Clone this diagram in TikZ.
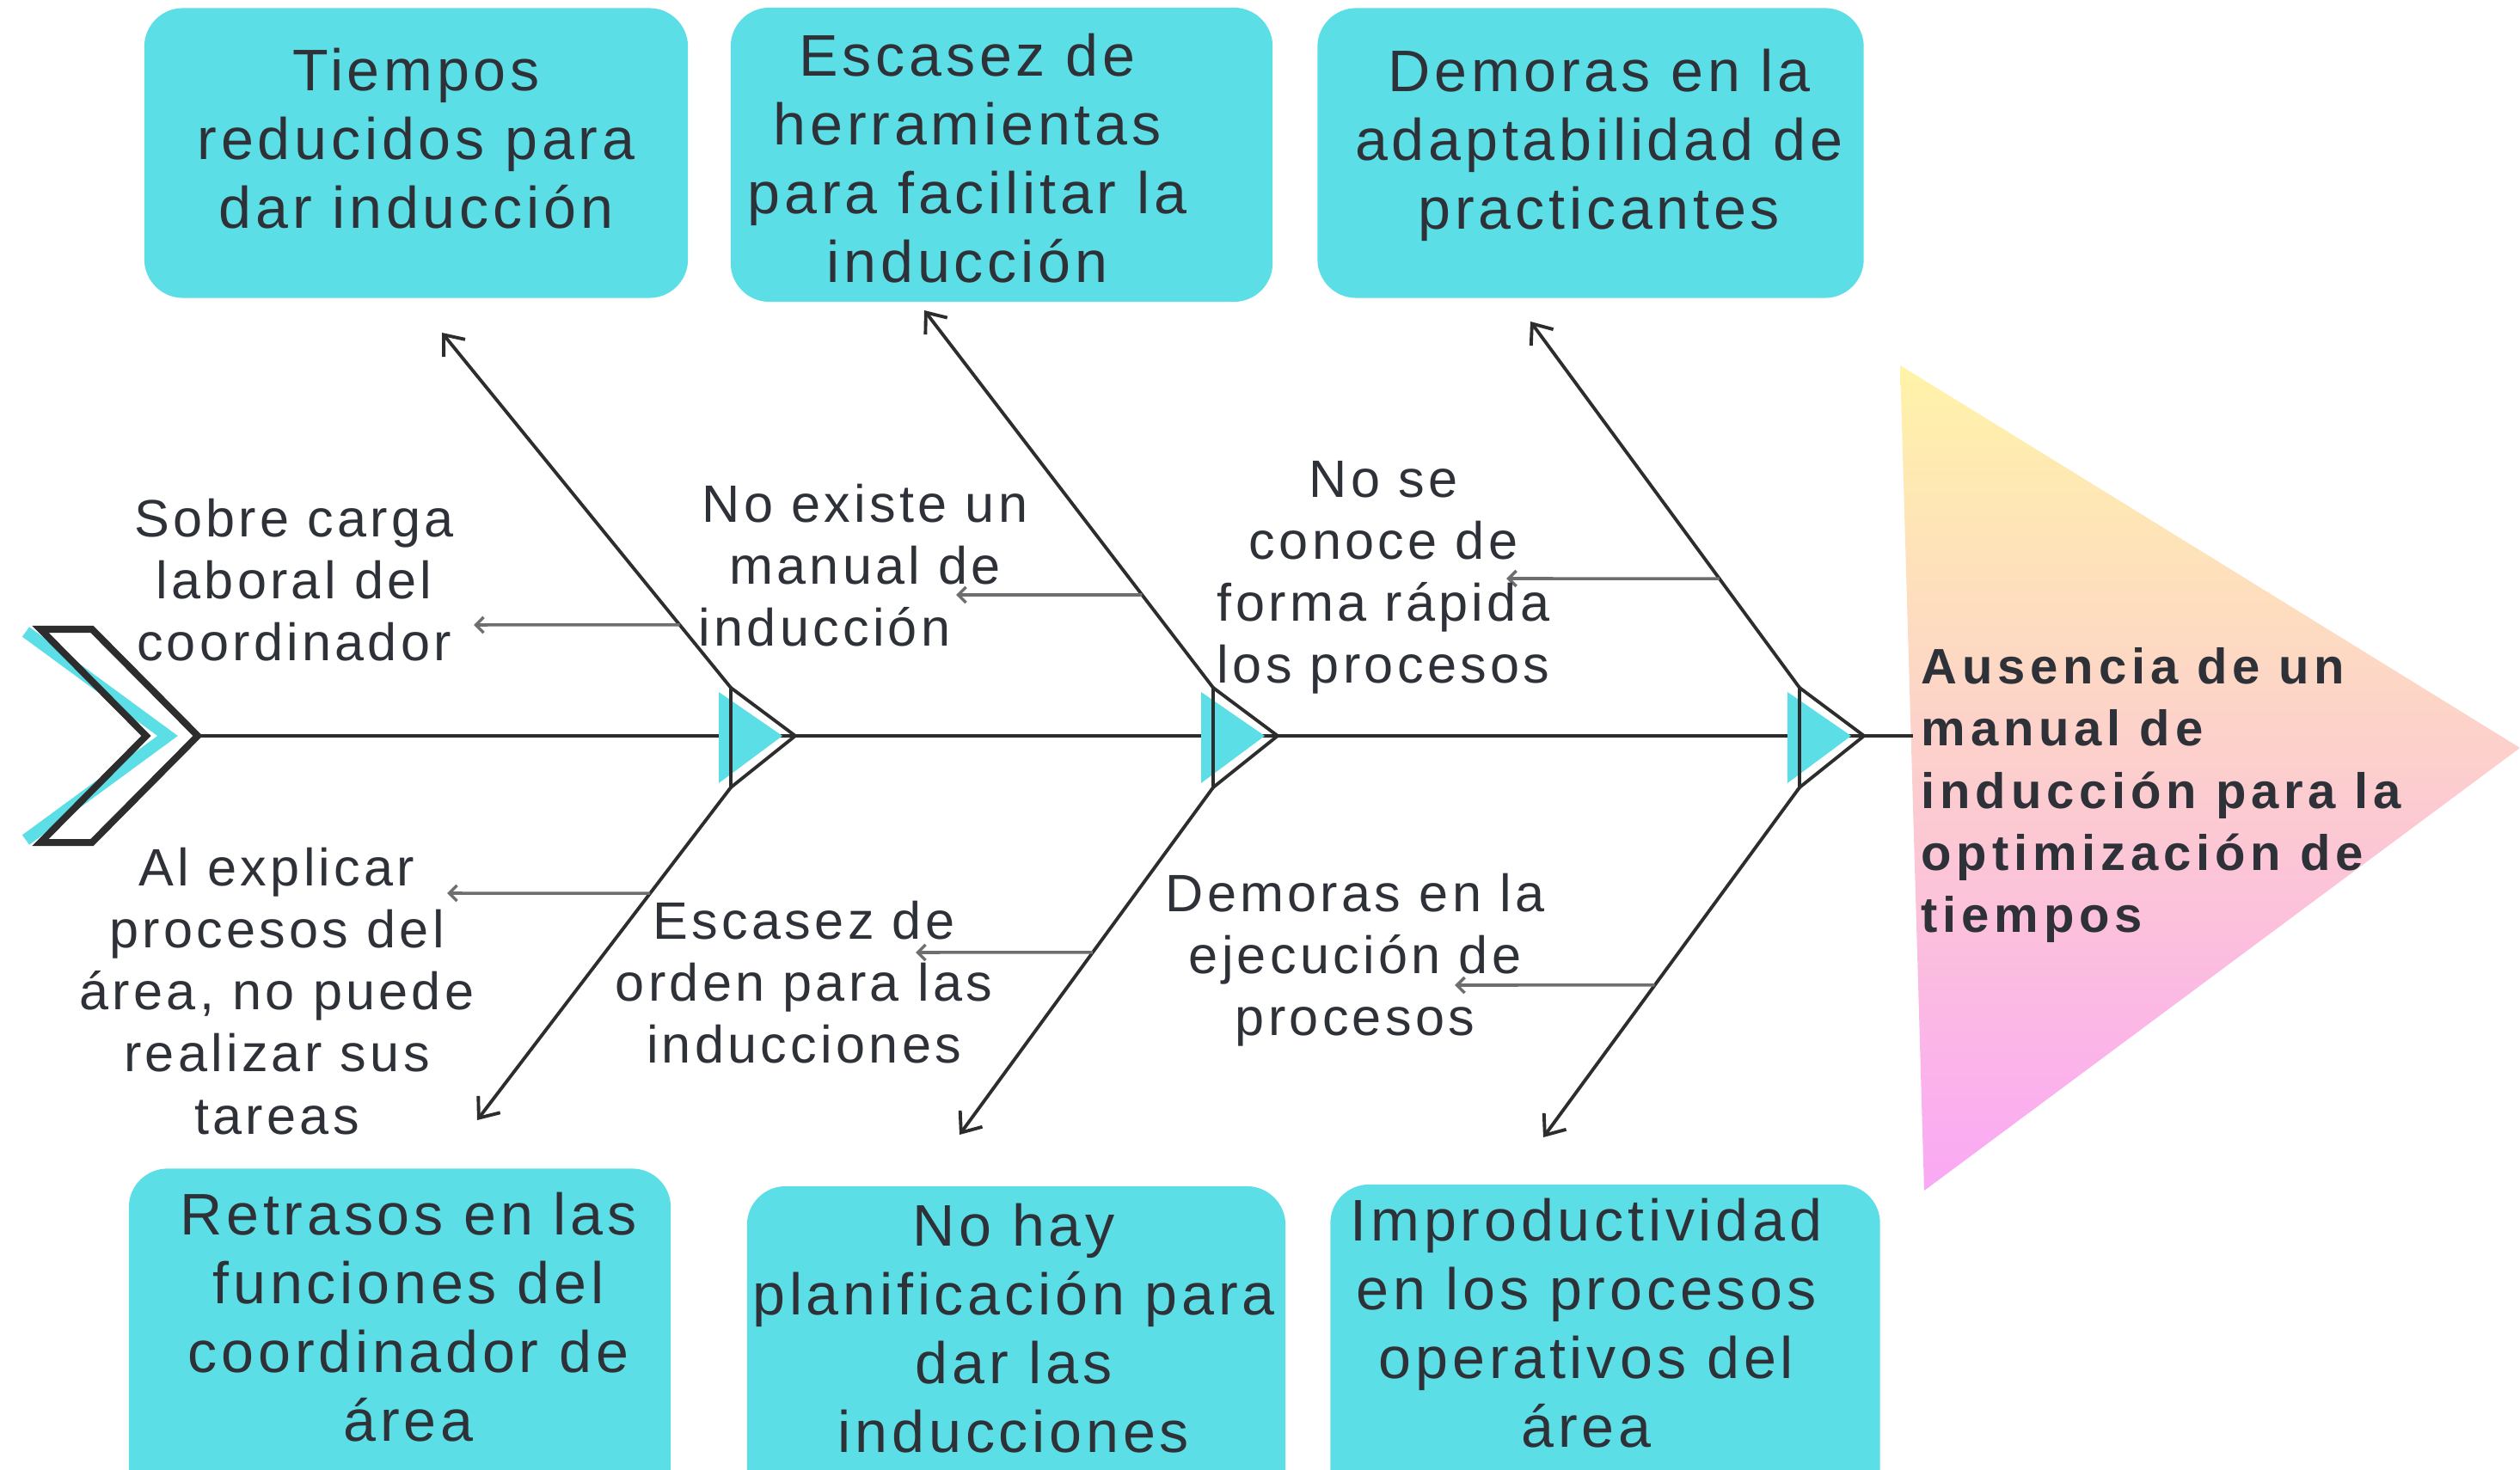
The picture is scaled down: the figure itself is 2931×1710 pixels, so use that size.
\documentclass[tikz,border=0pt]{standalone}
\usepackage{fontspec}
\setmainfont{Liberation Sans}
\newfontfamily\boxfont{Liberation Sans}[LetterSpace=7]
\newfontfamily\headfont{Liberation Sans}[LetterSpace=10]
\usepackage{xcolor}
\definecolor{BoxCyan}{RGB}{92,222,230}
\definecolor{Ink}{RGB}{46,50,56}
\definecolor{Line}{RGB}{45,45,45}
\definecolor{Grey}{RGB}{110,110,110}
\definecolor{Yellow}{RGB}{255,243,168}
\definecolor{Peach}{RGB}{252,204,196}
\definecolor{Pink}{RGB}{250,168,245}
\usepackage{tikz}
\usetikzlibrary{arrows.meta}

\tikzset{
	causebox/.style={fill=BoxCyan, draw=none, rounded corners=0.45cm, inner sep=0pt},
	boxtext/.style={align=center, text=Ink, inner sep=0pt, font=\boxfont\fontsize{19.4}{22.8}\selectfont},
	subtext/.style={align=center, text=Ink, inner sep=0pt, font=\boxfont\fontsize{17.4}{20.5}\selectfont},
	bone/.style={draw=Line, line width=1.1pt, -{Straight Barb[length=2mm, width=3.2mm]}},
	subarrow/.style={draw=Grey, line width=1pt, -{Straight Barb[length=0.9mm, width=1.8mm]}}
}

\begin{document}
\begin{tikzpicture}[x=0.01cm, y=-0.01cm]
		
		\useasboundingbox (0,0) rectangle (2931,1710);
		\clip (0,0) rectangle (2931,1710);
		
		% Effect
		\shade[top color=Yellow, middle color=Peach, bottom color=Pink] (2210,425) -- (2931,870) -- (2238,1385) -- cycle;
		\node[anchor=west, align=left, text=Ink, inner sep=0pt, font=\headfont\bfseries\fontsize{16.5}{20.5}\selectfont] (effect) at (2234,925) {Ausencia de un\\manual de\\inducción para la\\optimización de\\tiempos};
		
		% Spine
		\coordinate (tail) at (230,856);
		\coordinate (head) at (2225,856);
		\draw[draw=Line, line width=1.1pt] (tail) -- (head);
		
		% Tail
		\draw[draw=BoxCyan, line width=0.14cm, miter limit=10] (30,735) -- (195,856) -- (30,977);
		\draw[draw=Line, line width=0.08cm, miter limit=10] (47,732) -- (107,732) -- (tail) -- (107,980) -- (47,980) -- (170,856) -- cycle;
		
		% Markers
		\foreach \x/\n in {850/1, 1411/2, 2093/3}{
			\fill[BoxCyan] (\x-14,805) -- (\x+60,856) -- (\x-14,911) -- cycle;
			\draw[draw=Line, line width=1.1pt, miter limit=10] (\x,800) coordinate (m\n t) -- (\x+75,856) -- (\x,916) coordinate (m\n b) -- cycle;
		}
		
		% Blocks
		\node[causebox, minimum width=6.32cm, minimum height=3.37cm] (c1) at (484,178) {};
		\node[causebox, minimum width=6.30cm, minimum height=3.42cm] (c2) at (1165,180) {};
		\node[causebox, minimum width=6.35cm, minimum height=3.37cm] (c3) at (1850,178) {};
		\node[causebox, minimum width=6.30cm, minimum height=4.21cm] (c4) at (465,1570) {};
		\node[causebox, minimum width=6.26cm, minimum height=4.00cm] (c5) at (1182,1580) {};
		\node[causebox, minimum width=6.39cm, minimum height=4.02cm] (c6) at (1867,1579) {};
		
		% Names
		\node[boxtext] (c1t) at (484,161) {Tiempos\\reducidos para\\dar inducción};
		\node[boxtext] (c2t) at (1125,184) {Escasez de\\herramientas\\para facilitar la\\inducción};
		\node[boxtext] (c3t) at (1860,169) {Demoras en la\\adaptabilidad de\\practicantes};
		\node[boxtext] (c4t) at (475,1532) {Retrasos en las\\funciones del\\coordinador de\\área};
		\node[boxtext] (c5t) at (1179,1545) {No hay\\planificación para\\dar las\\inducciones};
		\node[boxtext] (c6t) at (1845,1539) {Improductividad\\en los procesos\\operativos del\\área};
		
		% Bones
		\coordinate (a1t) at (514,387);
		\coordinate (a1b) at (555,1303);
		\coordinate (a2t) at (1075,361);
		\coordinate (a2b) at (1116,1320);
		\coordinate (a3t) at (1780,374);
		\coordinate (a3b) at (1795,1323);
		
		\draw[bone] (m1t) -- coordinate[pos=0.177] (s1) (a1t);
		\draw[bone] (m1b) -- coordinate[pos=0.318] (s2) (a1b);
		\draw[bone] (m2t) -- coordinate[pos=0.246] (s3) (a2t);
		\draw[bone] (m2b) -- coordinate[pos=0.475] (s4) (a2b);
		\draw[bone] (m3t) -- coordinate[pos=0.298] (s5) (a3t);
		\draw[bone] (m3b) -- coordinate[pos=0.565] (s6) (a3b);
		
		% Sub causes
		\coordinate (e1) at (551,727);
		\coordinate (e2) at (520,1039);
		\coordinate (e3) at (1112,692);
		\coordinate (e4) at (1065,1108);
		\coordinate (e5) at (1752,673);
		\coordinate (e6) at (1692,1146);
		
		\draw[subarrow] (s1) -- (e1);
		\draw[subarrow] (s2) -- (e2);
		\draw[subarrow] (s3) -- (e3);
		\draw[subarrow] (s4) -- (e4);
		\draw[subarrow] (s5) -- (e5);
		\draw[subarrow] (s6) -- (e6);
		
		\node[subtext] (l1) at (342,675) {Sobre carga\\laboral del\\coordinador};
		\node[subtext] (l2) at (322,1153) {Al explicar\\procesos del\\área, no puede\\realizar sus\\tareas};
		\node[subtext] (l3) at (1006,658) {No existe un\\manual de\\inducción\hspace*{0.94cm}};
		\node[subtext] (l4) at (935,1143) {Escasez de\\orden para las\\inducciones};
		\node[subtext] (l5) at (1609,672) {No se\\conoce de\\forma rápida\\los procesos};
		\node[subtext] (l6) at (1576,1117) {Demoras en la\\ejecución de\\procesos};
		
	\end{tikzpicture}
\end{document}
